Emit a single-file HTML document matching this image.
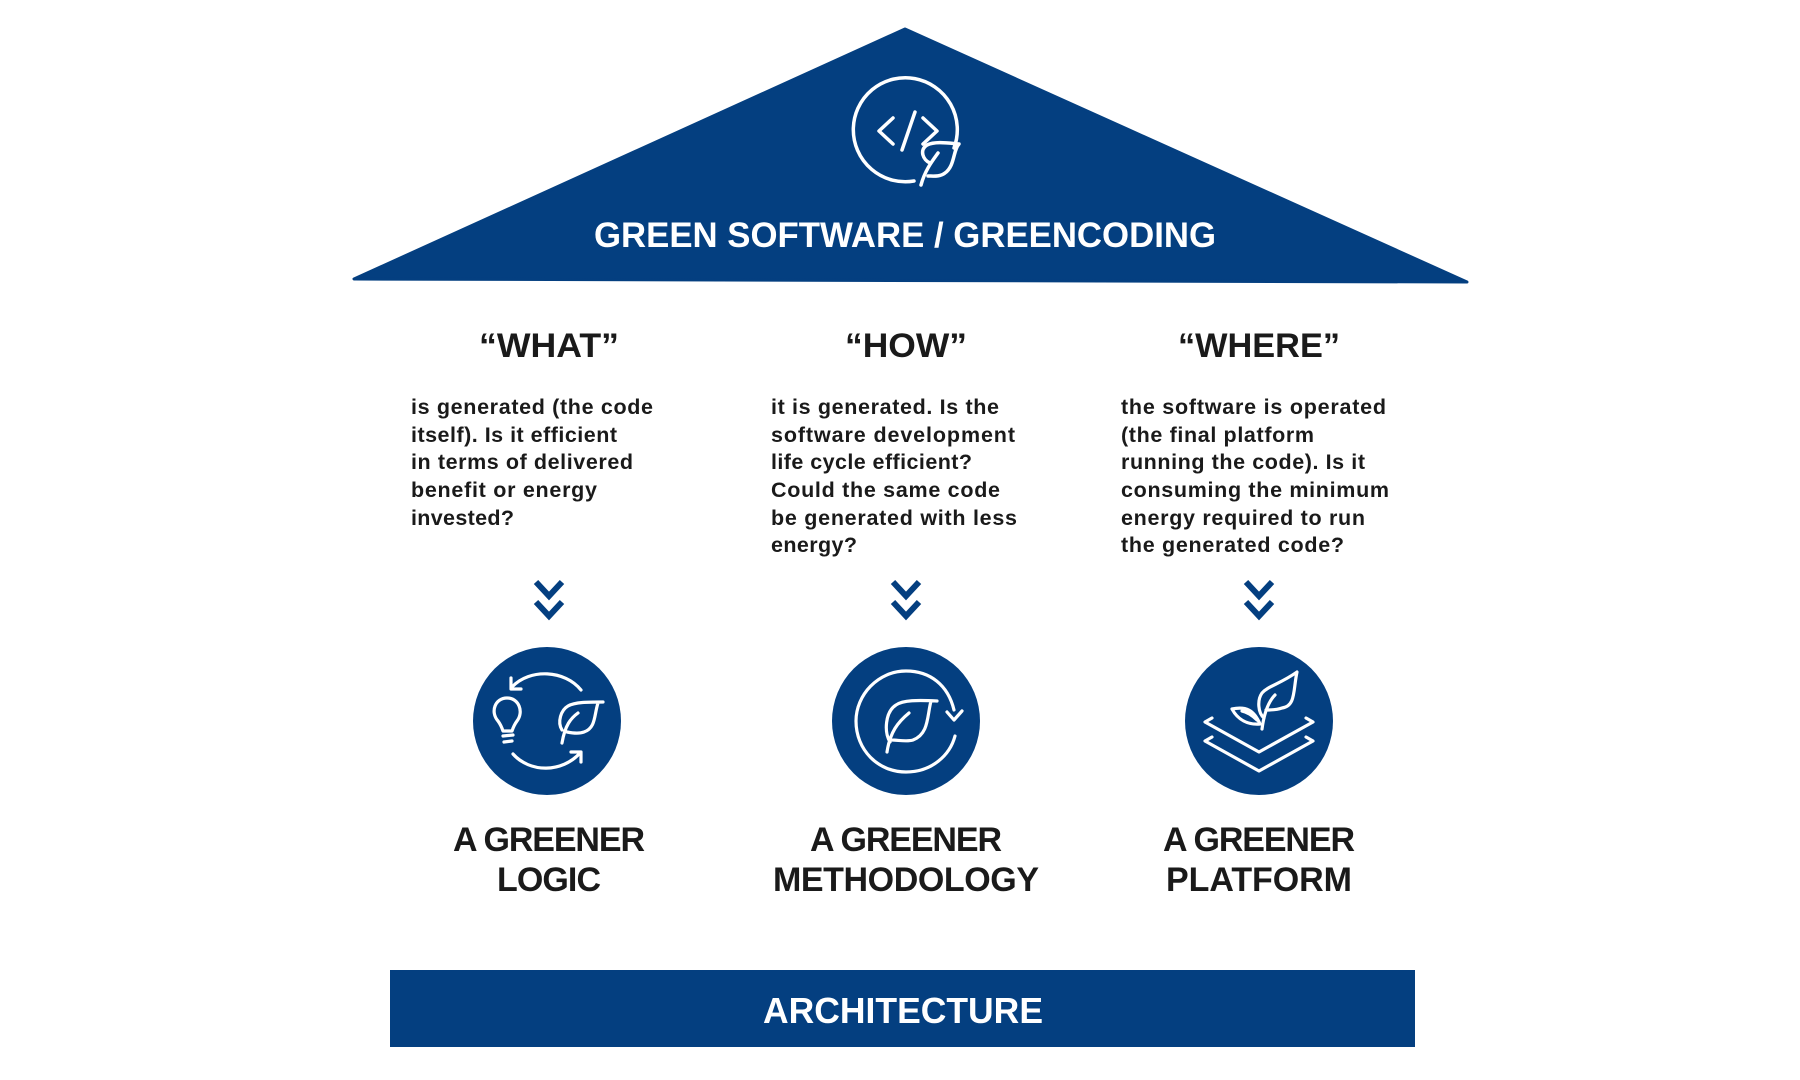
<!DOCTYPE html>
<html><head><meta charset="utf-8"><style>
html,body{margin:0;padding:0;background:#fff;}
svg{display:block}
text{font-family:"Liberation Sans",sans-serif;font-weight:bold}
</style></head><body>
<svg width="1800" height="1080" viewBox="0 0 1800 1080" xmlns="http://www.w3.org/2000/svg">
<polygon points="905,29 354,279 1467,282" fill="#043f80" stroke="#043f80" stroke-linejoin="round" stroke-width="3"/>
<g fill="none" stroke="#fff" stroke-width="3.5" stroke-linecap="round" stroke-linejoin="round">
<path d="M954,148 A52,52 0 1 0 914,181"/>
<polyline points="893,118 879,131 893,144"/>
<polyline points="923,118 937,131 923,144"/>
<line x1="915" y1="112" x2="902" y2="150"/>
<path d="M921,185 C925,170 933,160 938,153 M930,163 C923,160 919,150 927,145 C935,141 948,143 959,144 C953,150 955,166 945,173 C940,177 933,176 928,176"/>
</g>
<text x="905" y="247" text-anchor="middle" font-size="35" fill="#fff" textLength="622" lengthAdjust="spacingAndGlyphs">GREEN SOFTWARE / GREENCODING</text>
<g font-size="34" fill="#1a1a1a" text-anchor="middle">
<text x="549" y="357" textLength="140" lengthAdjust="spacingAndGlyphs">“WHAT”</text>
<text x="906" y="357" textLength="122" lengthAdjust="spacingAndGlyphs">“HOW”</text>
<text x="1259" y="357" textLength="162" lengthAdjust="spacingAndGlyphs">“WHERE”</text>
</g>
<g font-size="21.5" fill="#1a1a1a" lengthAdjust="spacingAndGlyphs">
<text x="411" y="414" textLength="242">is generated (the code</text>
<text x="411" y="442" textLength="206">itself). Is it efficient</text>
<text x="411" y="469" textLength="222">in terms of delivered</text>
<text x="411" y="497" textLength="186">benefit or energy</text>
<text x="411" y="525" textLength="103">invested?</text>
<text x="771" y="414" textLength="228">it is generated. Is the</text>
<text x="771" y="442" textLength="244">software development</text>
<text x="771" y="469" textLength="201">life cycle efficient?</text>
<text x="771" y="497" textLength="229">Could the same code</text>
<text x="771" y="525" textLength="246">be generated with less</text>
<text x="771" y="552" textLength="86">energy?</text>
<text x="1121" y="414" textLength="265">the software is operated</text>
<text x="1121" y="442" textLength="193">(the final platform</text>
<text x="1121" y="469" textLength="244">running the code). Is it</text>
<text x="1121" y="497" textLength="268">consuming the minimum</text>
<text x="1121" y="525" textLength="244">energy required to run</text>
<text x="1121" y="552" textLength="223">the generated code?</text>
</g>
<g fill="none" stroke="#043f80" stroke-width="6">
<polyline points="536,582 549,596 562,582"/><polyline points="536,602 549,616 562,602"/>
<polyline points="893,582 906,596 919,582"/><polyline points="893,602 906,616 919,602"/>
<polyline points="1246,582 1259,596 1272,582"/><polyline points="1246,602 1259,616 1272,602"/>
</g>
<circle cx="547" cy="721" r="74" fill="#043f80"/>
<circle cx="906" cy="721" r="74" fill="#043f80"/>
<circle cx="1259" cy="721" r="74" fill="#043f80"/>
<g fill="none" stroke="#fff" stroke-width="3.2" stroke-linecap="round" stroke-linejoin="round">
<!-- logic -->
<path d="M581,690 C565,670 530,668 512,687"/><polyline points="511,678 511,689 521,689"/>
<path d="M513,754 C530,773 562,773 580,753"/><polyline points="571,752 581,752 581,762"/>
<path d="M507,698 C495,698 490,712 498,721 C501,725 502,728 503,731 L512,731 C513,728 514,725 517,721 C524,712 519,698 507,698 Z"/>
<line x1="503" y1="736" x2="513" y2="735"/><line x1="504" y1="742" x2="512" y2="741"/>
<path d="M562,743 C565,725 571,718 578,713 M562,730 C557,722 561,710 568,706 C575,702 588,702 603,702 M598,703 C594,715 596,728 584,732 C579,734 572,733 567,732"/>
<!-- methodology -->
<path d="M954,710 C948,685 930,671 906,671 C878,671 856,695 856,721 C856,750 878,772 906,772 C932,772 950,755 955,736"/>
<polyline points="947,712 954,720 962,711"/>
<path d="M887,752 C890,732 898,722 909,713 M890,742 C884,732 885,712 896,705 C903,700 918,700 937,701 M931,701 C927,716 929,734 913,740 C907,742 898,740 892,740"/>
<!-- platform -->
<polyline points="1212,718 1205,722 1259,752 1313,722 1306,718"/>
<polyline points="1212,737 1205,741 1259,771 1313,741 1306,737"/>
<path d="M1262,729 C1264,714 1268,702 1275,695 M1264,718 C1258,713 1257,700 1262,693 C1268,686 1280,684 1297,672 C1293,690 1296,706 1282,708 C1277,710 1270,710 1266,710"/>
<path d="M1260,724 C1254,710 1246,706 1232,709 C1238,720 1248,725 1260,724 M1257,720 C1252,715 1247,712 1242,711"/>
</g>
<g font-size="34" fill="#1a1a1a" text-anchor="middle" lengthAdjust="spacingAndGlyphs">
<text x="549" y="851" textLength="192">A GREENER</text>
<text x="549" y="891" textLength="104">LOGIC</text>
<text x="906" y="851" textLength="192">A GREENER</text>
<text x="906" y="891" textLength="266">METHODOLOGY</text>
<text x="1259" y="851" textLength="192">A GREENER</text>
<text x="1259" y="891" textLength="186">PLATFORM</text>
</g>
<rect x="390" y="970" width="1025" height="77" fill="#043f80"/>
<text x="903" y="1023" text-anchor="middle" font-size="36" fill="#fff" textLength="280" lengthAdjust="spacingAndGlyphs">ARCHITECTURE</text>
</svg>
</body></html>
